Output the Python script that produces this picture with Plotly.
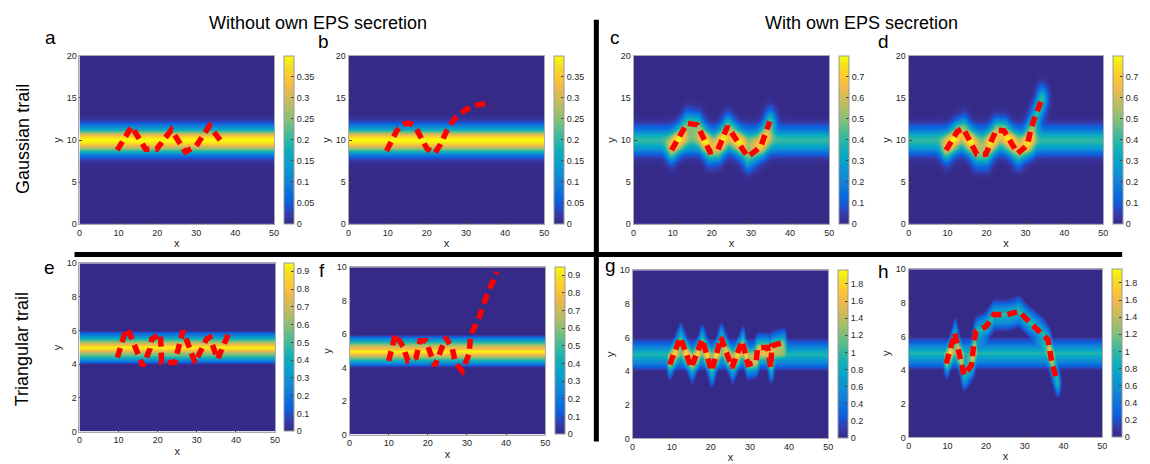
import numpy as np
import plotly.graph_objects as go

# ---------------- data: trajectories (x, y) ----------------
traj_a_x = [9.7, 13.4, 17.0, 19.8, 23.6, 27.2, 30.0, 33.4, 36.4]
traj_a_y = [8.8, 11.6, 8.9, 8.9, 11.2, 8.6, 9.3, 11.7, 9.8]

traj_b_x = [9.7, 12.3, 14.0, 15.5, 17.0, 18.5, 20.0, 22.0, 23.5, 25.0, 27.0, 29.0, 31.0, 33.0, 35.0, 36.5]
traj_b_y = [8.7, 11.1, 11.9, 12.0, 11.6, 10.4, 9.0, 8.4, 9.5, 11.0, 12.5, 13.3, 13.9, 14.2, 14.3, 14.1]

traj_c_x = [9.7, 13.7, 16.3, 19.5, 21.5, 24.0, 29.2, 32.5, 34.8]
traj_c_y = [8.8, 12.0, 11.8, 8.6, 8.8, 11.6, 8.0, 9.2, 12.2]

traj_d_x = [9.6, 12.5, 14.0, 17.5, 19.8, 22.5, 24.5, 28.0, 30.5, 31.5, 34.2]
traj_d_y = [8.8, 11.0, 11.4, 8.3, 8.3, 11.2, 11.1, 8.4, 9.4, 11.5, 14.9]

traj_e_x = [9.7, 11.9, 12.9, 16.2, 18.0, 18.5, 20.7, 21.0, 24.3, 26.5, 29.5, 32.5, 33.3, 35.3, 38.1]
traj_e_y = [4.4, 6.1, 5.8, 3.9, 4.9, 5.5, 5.8, 4.1, 4.1, 6.0, 4.1, 5.5, 5.6, 4.3, 5.8]

traj_f_x = [10.0, 11.7, 13.8, 14.9, 17.0, 18.0, 19.5, 21.8, 24.6, 26.3, 27.0, 28.8, 30.5, 31.0, 33.0, 35.0, 37.7]
traj_f_y = [4.4, 6.0, 5.2, 4.4, 4.6, 5.6, 5.6, 4.1, 5.8, 5.1, 4.3, 3.8, 4.8, 6.0, 6.9, 8.3, 9.7]

traj_g_x = [9.5, 12.2, 15.0, 17.8, 20.2, 22.6, 25.4, 28.0, 29.5, 31.5, 32.0, 34.5, 35.3, 35.6, 38.4]
traj_g_y = [4.4, 6.0, 4.2, 5.9, 4.0, 6.0, 4.2, 5.8, 4.4, 4.5, 5.4, 5.4, 4.2, 5.5, 5.7]

traj_h_x = [9.7, 11.9, 14.3, 16.2, 17.0, 17.4, 20.0, 22.0, 25.5, 28.5, 31.0, 33.5, 36.0, 37.0, 38.4]
traj_h_y = [4.4, 6.2, 3.7, 4.3, 5.9, 6.3, 6.6, 7.3, 7.3, 7.5, 6.9, 6.4, 5.8, 4.4, 3.3]

# ---------------- trail / deposit parameters ----------------
gauss_peak, gauss_sigma, gauss_center = 0.399, 1.0, 10.0
gauss_dep_peak, gauss_dep_sigma = 0.40, 1.0
tri_peak, tri_halfwidth, tri_center = 0.95, 1.0, 5.0
tri_dep_peak, tri_dep_halfwidth = 1.0, 1.0

# colorbar ranges and ticks
cmax_ab, ticks_ab = 0.399, [0, 0.05, 0.1, 0.15, 0.2, 0.25, 0.3, 0.35]
cmax_cd, ticks_cd = 0.80, [0, 0.1, 0.2, 0.3, 0.4, 0.5, 0.6, 0.7]
cmax_ef, ticks_ef = 0.945, [0, 0.1, 0.2, 0.3, 0.4, 0.5, 0.6, 0.7, 0.8, 0.9]
cmax_gh, ticks_gh = 1.96, [0, 0.2, 0.4, 0.6, 0.8, 1, 1.2, 1.4, 1.6, 1.8]

x_ticks = [0, 10, 20, 30, 40, 50]
y_ticks_top = [0, 5, 10, 15, 20]
y_ticks_bot = [0, 2, 4, 6, 8, 10]

panel_letters = ["a", "b", "c", "d", "e", "f", "g", "h"]

# parula colormap
parula_rgb = [
    (0.2081, 0.1663, 0.5292), (0.2081, 0.2386, 0.6771), (0.0591, 0.3598, 0.8683),
    (0.0329, 0.4430, 0.8720), (0.0779, 0.5040, 0.8384), (0.0488, 0.5772, 0.8228),
    (0.0231, 0.6418, 0.7913), (0.0590, 0.6838, 0.7254), (0.1801, 0.7177, 0.6424),
    (0.3482, 0.7424, 0.5473), (0.5300, 0.7491, 0.4661), (0.6834, 0.7435, 0.4044),
    (0.8185, 0.7327, 0.3498), (0.9450, 0.7261, 0.2886), (0.9955, 0.7861, 0.1967),
    (0.9626, 0.8705, 0.1309), (0.9763, 0.9831, 0.0538)]
n = len(parula_rgb)
parula = [[i / (n - 1), "rgb(%d,%d,%d)" % tuple(round(c * 255) for c in rgb)]
          for i, rgb in enumerate(parula_rgb)]

W, H = 1150, 464


def dist_to_path(X, Y, px, py):
    d = np.full(X.shape, np.inf)
    for i in range(len(px) - 1):
        ax, ay, bx, by = px[i], py[i], px[i + 1], py[i + 1]
        vx, vy = bx - ax, by - ay
        L2 = vx * vx + vy * vy
        t = np.clip(((X - ax) * vx + (Y - ay) * vy) / L2, 0, 1)
        d = np.minimum(d, np.hypot(X - (ax + t * vx), Y - (ay + t * vy)))
    return d


gx = np.linspace(0, 50, 201)
gy_top = np.linspace(0, 20, 161)
gy_bot = np.linspace(0, 10, 161)
Xt, Yt = np.meshgrid(gx, gy_top)
Xb, Yb = np.meshgrid(gx, gy_bot)

gauss_band = gauss_peak * np.exp(-(Yt - gauss_center) ** 2 / (2 * gauss_sigma ** 2))
tri_band = tri_peak * np.clip(1 - np.abs(Yb - tri_center) / tri_halfwidth, 0, None)


def gauss_field(px, py, eps):
    z = gauss_band.copy()
    if eps:
        d = dist_to_path(Xt, Yt, px, py)
        z = z + gauss_dep_peak * np.exp(-d ** 2 / (2 * gauss_dep_sigma ** 2))
    return np.round(z, 4)


def tri_field(px, py, eps):
    z = tri_band.copy()
    if eps:
        d = dist_to_path(Xb, Yb, px, py)
        z = z + tri_dep_peak * np.clip(1 - d / tri_dep_halfwidth, 0, None)
    return np.round(z, 4)


# panel geometry in pixels: plot (x0, x1, y0, y1), colorbar x0
panels = [
    dict(px=traj_a_x, py=traj_a_y, kind="g", eps=False, box=(77, 273, 52, 224), cb=283, cmax=cmax_ab, cticks=ticks_ab),
    dict(px=traj_b_x, py=traj_b_y, kind="g", eps=False, box=(348, 545, 52, 224), cb=555, cmax=cmax_ab, cticks=ticks_ab),
    dict(px=traj_c_x, py=traj_c_y, kind="g", eps=True, box=(635, 832, 52, 224), cb=842, cmax=cmax_cd, cticks=ticks_cd),
    dict(px=traj_d_x, py=traj_d_y, kind="g", eps=True, box=(912, 1108, 52, 224), cb=1118, cmax=cmax_cd, cticks=ticks_cd),
    dict(px=traj_e_x, py=traj_e_y, kind="t", eps=False, box=(77, 274, 264, 436), cb=283, cmax=cmax_ef, cticks=ticks_ef),
    dict(px=traj_f_x, py=traj_f_y, kind="t", eps=False, box=(349, 546, 268, 439), cb=556, cmax=cmax_ef, cticks=ticks_ef),
    dict(px=traj_g_x, py=traj_g_y, kind="t", eps=True, box=(634, 831, 271, 443), cb=841, cmax=cmax_gh, cticks=ticks_gh),
    dict(px=traj_h_x, py=traj_h_y, kind="t", eps=True, box=(912, 1107, 270, 442), cb=1117, cmax=cmax_gh, cticks=ticks_gh),
]
letter_pos = [(48, 33), (323, 37), (616, 33), (887, 37), (47, 268), (321, 271), (612, 266), (887, 272)]

FONT = "Liberation Sans, Arial, sans-serif"
TXT = "#262626"

fig = go.Figure()
layout = dict(width=W, height=H, margin=dict(l=0, r=0, t=0, b=0), autosize=False,
              paper_bgcolor="white", plot_bgcolor="white", showlegend=False,
              font=dict(family=FONT, color=TXT))
annotations = []

for i, p in enumerate(panels):
    k = "" if i == 0 else str(i + 1)
    x0, x1, y0, y1 = p["box"]
    if p["kind"] == "g":
        z = gauss_field(p["px"], p["py"], p["eps"])
        gy = gy_top
        yt = y_ticks_top
        yr = [0, 20]
    else:
        z = tri_field(p["px"], p["py"], p["eps"])
        gy = gy_bot
        yt = y_ticks_bot
        yr = [0, 10]
    ctext = [("%g" % v) for v in p["cticks"]]
    fig.add_trace(go.Heatmap(
        x=gx, y=gy, z=z, zmin=0, zmax=p["cmax"], colorscale=parula, zsmooth="best",
        xaxis="x" + k, yaxis="y" + k, hoverinfo="skip",
        colorbar=dict(thickness=10, thicknessmode="pixels",
                      len=(y1 - y0) / H, lenmode="fraction",
                      x=p["cb"] / W, xanchor="left", y=1 - y0 / H, yanchor="top",
                      xpad=0, ypad=0, outlinewidth=1, outlinecolor="#999999",
                      tickvals=p["cticks"], ticktext=ctext, ticks="inside", ticklen=3,
                      tickcolor="#444444", tickfont=dict(size=9, color=TXT, family=FONT))))
    fig.add_trace(go.Scatter(
        x=p["px"], y=p["py"], mode="lines", xaxis="x" + k, yaxis="y" + k,
        line=dict(color="#ff0000", width=5.5, dash="10px,6px"), hoverinfo="skip"))
    layout["xaxis" + k] = dict(
        domain=[x0 / W, x1 / W], range=[0, 50], tickvals=x_ticks, ticks="inside", ticklen=3,
        tickcolor="#444444", showline=True, linecolor="#aaaaaa", linewidth=1, mirror=True,
        showgrid=False, zeroline=False, anchor="y" + k, tickfont=dict(size=9, color=TXT),
        title=dict(text="x", font=dict(size=11, color=TXT), standoff=2))
    layout["yaxis" + k] = dict(
        domain=[1 - y1 / H, 1 - y0 / H], range=yr, tickvals=yt, ticks="inside", ticklen=3,
        tickcolor="#444444", showline=True, linecolor="#aaaaaa", linewidth=1, mirror=True,
        showgrid=False, zeroline=False, anchor="x" + k, tickfont=dict(size=9, color=TXT),
        title=dict(text="y", font=dict(size=11, color=TXT), standoff=2))
    lx, ly = letter_pos[i]
    annotations.append(dict(text=panel_letters[i], x=lx / W, y=1 - ly / H, xref="paper", yref="paper",
                            xanchor="center", yanchor="middle", showarrow=False,
                            font=dict(size=19, color="black", family=FONT)))

annotations += [
    dict(text="Without own EPS secretion", x=317 / W, y=1 - 18 / H, xref="paper", yref="paper",
         xanchor="center", yanchor="middle", showarrow=False, font=dict(size=18, color="black", family=FONT)),
    dict(text="With own EPS secretion", x=865 / W, y=1 - 18 / H, xref="paper", yref="paper",
         xanchor="center", yanchor="middle", showarrow=False, font=dict(size=18, color="black", family=FONT)),
    dict(text="Gaussian trail", x=20 / W, y=1 - 137 / H, xref="paper", yref="paper", textangle=-90,
         xanchor="center", yanchor="middle", showarrow=False, font=dict(size=18, color="black", family=FONT)),
    dict(text="Triangular trail", x=20 / W, y=1 - 352 / H, xref="paper", yref="paper", textangle=-90,
         xanchor="center", yanchor="middle", showarrow=False, font=dict(size=18, color="black", family=FONT)),
]
layout["annotations"] = annotations
layout["shapes"] = [
    dict(type="line", xref="paper", yref="paper", x0=597.5 / W, x1=597.5 / W, y0=1 - 15 / H, y1=1 - 446 / H,
         line=dict(color="black", width=5)),
    dict(type="line", xref="paper", yref="paper", x0=72 / W, x1=1127 / W, y0=1 - 255 / H, y1=1 - 255 / H,
         line=dict(color="black", width=5)),
]
fig.update_layout(**layout)
fig.write_html("out.html")
